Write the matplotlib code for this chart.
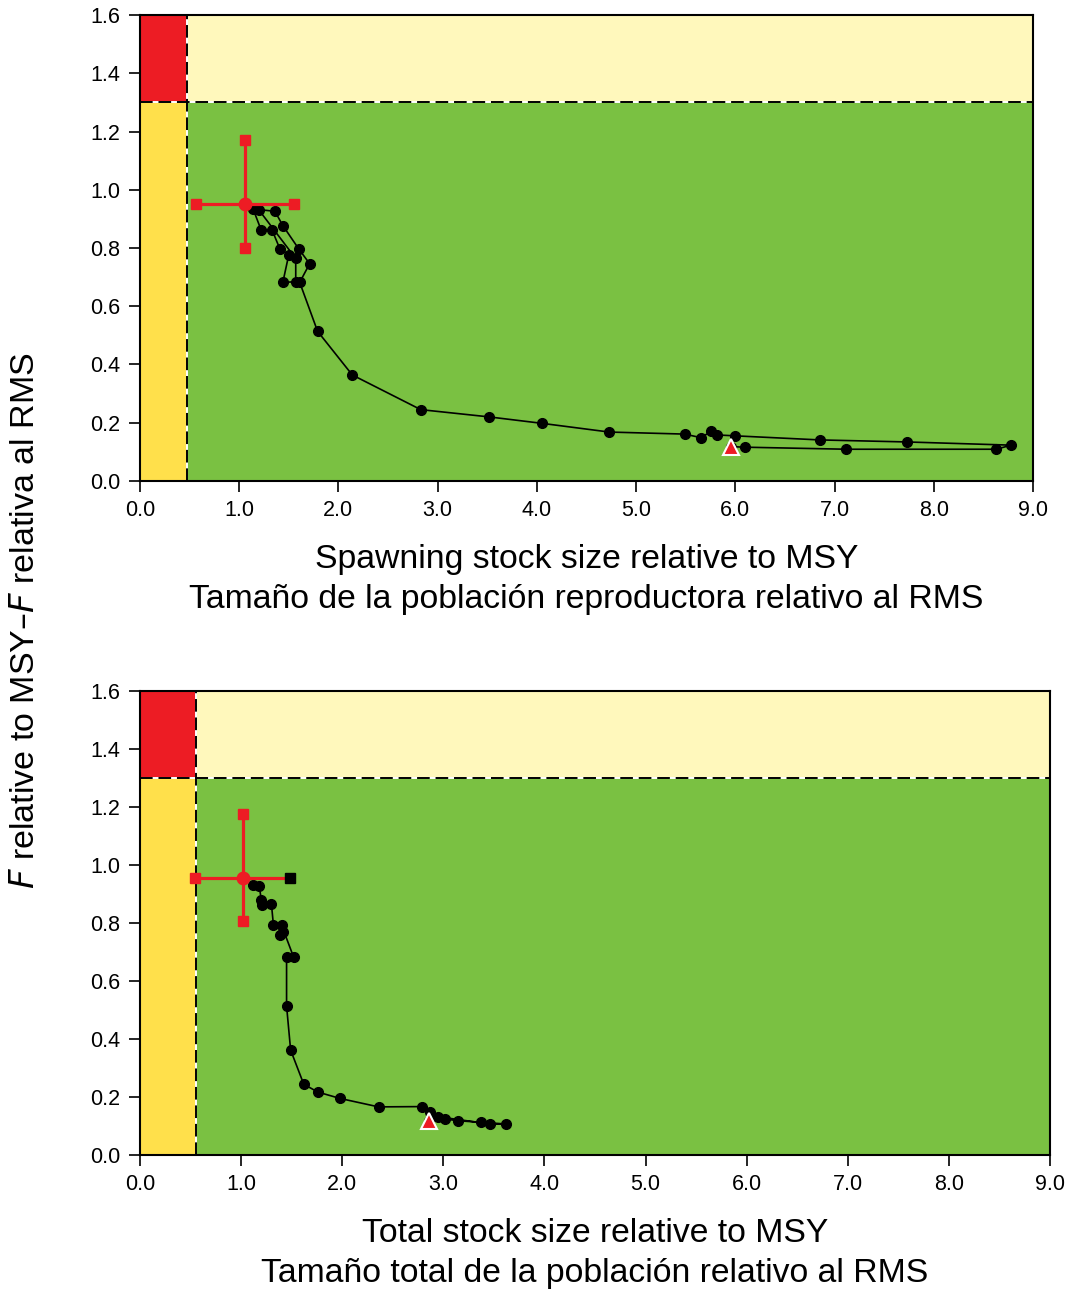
import matplotlib
matplotlib.use("Agg")
import matplotlib.pyplot as plt
from matplotlib.patches import Rectangle

plt.rcParams['font.family'] = ['Liberation Sans', 'DejaVu Sans']

# ---- data: spawning stock panel ----
ssb_x = [5.96, 6.10, 7.12, 8.63, 8.78, 7.73, 6.85, 6.00, 5.82, 5.76, 5.65, 5.49,
         4.73, 4.05, 3.52, 2.83, 2.14, 1.79, 1.61, 1.71, 1.60, 1.44, 1.36, 1.14,
         1.22, 1.33, 1.41, 1.50, 1.44, 1.57, 1.57, 1.20, 1.06]
ssb_f = [0.118, 0.116, 0.109, 0.109, 0.123, 0.134, 0.141, 0.155, 0.158, 0.170, 0.149, 0.161,
         0.168, 0.198, 0.220, 0.245, 0.364, 0.514, 0.682, 0.746, 0.797, 0.877, 0.926, 0.934,
         0.863, 0.863, 0.797, 0.777, 0.682, 0.684, 0.764, 0.930, 0.952]
ssb_lim = 0.47
ssb_cur = (1.06, 0.952)
ssb_xerr = (0.565, 1.55)
ssb_ferr = (0.80, 1.17)

# ---- data: total stock panel ----
tot_x = [2.86, 3.02, 3.15, 3.37, 3.62, 3.46, 2.95, 2.87, 2.79, 2.36, 1.98, 1.76,
         1.62, 1.49, 1.45, 1.45, 1.52, 1.40, 1.385, 1.41, 1.32, 1.30, 1.21, 1.20,
         1.18, 1.12, 1.016]
tot_f = [0.118, 0.124, 0.118, 0.113, 0.107, 0.107, 0.132, 0.149, 0.167, 0.166, 0.195, 0.217,
         0.244, 0.362, 0.514, 0.682, 0.682, 0.793, 0.759, 0.770, 0.793, 0.866, 0.862, 0.879,
         0.928, 0.931, 0.954]
tot_lim = 0.55
tot_cur = (1.016, 0.954)
tot_xerr = (0.54, 1.48)
tot_ferr = (0.807, 1.176)

f_lim = 1.3
xticks = [0.0, 1.0, 2.0, 3.0, 4.0, 5.0, 6.0, 7.0, 8.0, 9.0]
yticks = [0.0, 0.2, 0.4, 0.6, 0.8, 1.0, 1.2, 1.4, 1.6]

RED = '#ED1C24'
LYEL = '#FFF8BC'
YEL = '#FFE04B'
GRN = '#7AC142'

fig = plt.figure(figsize=(10.70, 12.94), dpi=100)
ax1 = fig.add_axes([0.1308, 0.6283, 0.8346, 0.3601])
ax2 = fig.add_axes([0.1308, 0.1074, 0.8505, 0.3586])


def panel(ax, xs, fs, blim, cur, xerr, ferr, black_end, xl1, xl2):
    ax.set_xlim(0, 9)
    ax.set_ylim(0, 1.6)
    ax.add_patch(Rectangle((0, f_lim), blim, 1.6 - f_lim, facecolor=RED, edgecolor='none', zorder=0))
    ax.add_patch(Rectangle((blim, f_lim), 9 - blim, 1.6 - f_lim, facecolor=LYEL, edgecolor='none', zorder=0))
    ax.add_patch(Rectangle((0, 0), blim, f_lim, facecolor=YEL, edgecolor='none', zorder=0))
    ax.add_patch(Rectangle((blim, 0), 9 - blim, f_lim, facecolor=GRN, edgecolor='none', zorder=0))
    for style in [dict(color='white', lw=1.4, ls='-'), dict(color='black', lw=1.4, ls=(0, (6.5, 3)))]:
        ax.axhline(f_lim, zorder=1, **style)
        ax.axvline(blim, zorder=1, **style)
    ax.plot(xs, fs, color='black', lw=1.2, marker='o', ms=7, zorder=3)
    ax.plot([xs[0]], [fs[0]], marker='^', ms=12, color=RED, mec='white', mew=1.5, zorder=5, ls='none')
    # error cross
    ax.plot([xerr[0], xerr[1]], [cur[1], cur[1]], color=RED, lw=2.3, zorder=4)
    ax.plot([cur[0], cur[0]], [ferr[0], ferr[1]], color=RED, lw=2.3, zorder=4)
    ax.plot([xerr[0]], [cur[1]], marker='s', ms=6.5, color=RED, zorder=4, ls='none')
    ax.plot([xerr[1]], [cur[1]], marker='s', ms=6.5, color='black' if black_end else RED, zorder=4, ls='none')
    ax.plot([cur[0], cur[0]], [ferr[0], ferr[1]], marker='s', ms=6.5, color=RED, zorder=4, ls='none')
    ax.plot([cur[0]], [cur[1]], marker='o', ms=9, color=RED, zorder=6, ls='none')
    ax.set_xticks(xticks)
    ax.set_xticklabels([f'{v:.1f}' for v in xticks])
    ax.set_yticks(yticks)
    ax.set_yticklabels([f'{v:.1f}' for v in yticks])
    ax.tick_params(direction='out', length=8, width=1.2, labelsize=15.5, pad=6, color='black')
    for s in ax.spines.values():
        s.set_linewidth(1.5)
        s.set_zorder(7)
    ax.set_xlabel(xl1 + '\n' + xl2, fontsize=24.3, labelpad=16, linespacing=1.4)


panel(ax1, ssb_x, ssb_f, ssb_lim, ssb_cur, ssb_xerr, ssb_ferr, False,
      'Spawning stock size relative to MSY', 'Tamaño de la población reproductora relativo al RMS')
panel(ax2, tot_x, tot_f, tot_lim, tot_cur, tot_xerr, tot_ferr, True,
      'Total stock size relative to MSY', 'Tamaño total de la población relativo al RMS')

fig.text(0.024, 0.52, r'$\mathit{F}$ relative to MSY–$\mathit{F}$ relativa al RMS', rotation=90,
         fontsize=24.5, ha='center', va='center')

fig.savefig('out.png', dpi=100)
